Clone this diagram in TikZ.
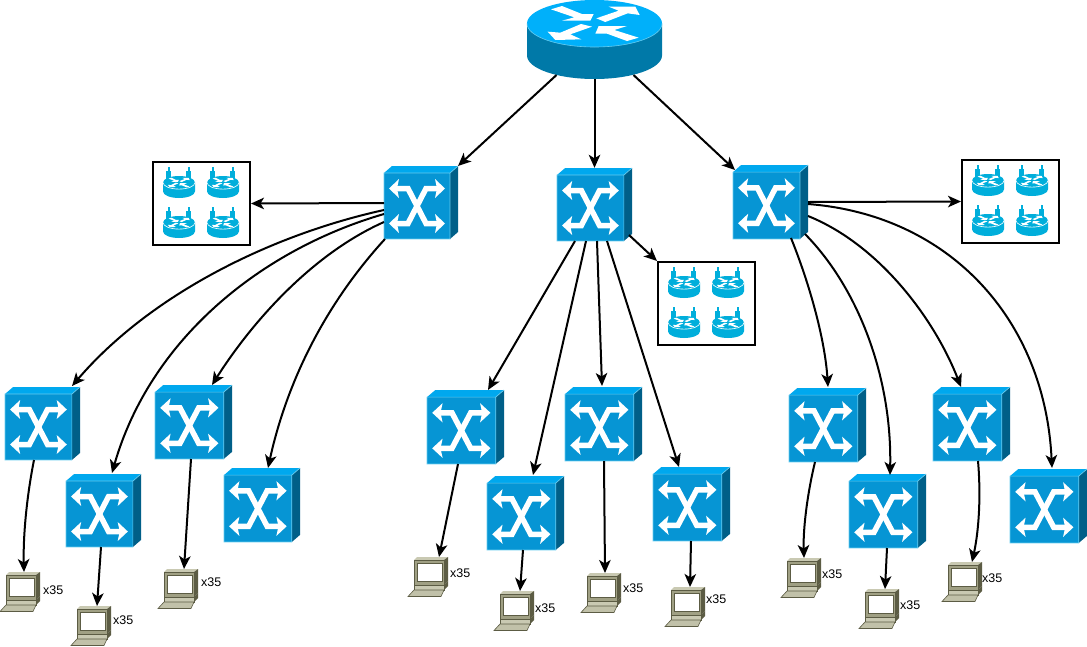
\documentclass[tikz,border=0pt]{standalone}
\usepackage{fontspec}
\setmainfont{Liberation Sans}
\usetikzlibrary{arrows.meta}
\definecolor{swfront}{HTML}{0695D4}
\definecolor{swtop}{HTML}{00A8EE}
\definecolor{swside}{HTML}{005F88}
\definecolor{swedge}{HTML}{66CCF0}
\definecolor{rttop}{HTML}{00B0FA}
\definecolor{rtside}{HTML}{0079A8}
\definecolor{mini}{HTML}{00AEDB}
\definecolor{pcbody}{HTML}{A0A084}
\definecolor{pcdark}{HTML}{5C5C44}
\definecolor{pclight}{HTML}{C9C9B2}
\tikzset{
  link/.style={draw=black,line width=2pt,-{Stealth[length=13pt,width=11.5pt,inset=3.5pt]}},
  countlabel/.style={font=\fontsize{12.5}{13}\selectfont,inner sep=0pt,anchor=west},
  framebox/.style={draw=black,line width=2pt,fill=white,inner sep=0pt,minimum width=97pt,minimum height=83pt}
}
% x-arrow artwork of the switch, local frame 74 x 73
\newcommand{\switchart}{%
  \fill[swtop] (0,7)--(8,0)--(74,0)--(66,7)--cycle;
  \fill[swside] (66,7)--(74,0)--(74,66)--(66,73)--cycle;
  \fill[swfront] (0,7) rectangle (66,73);
  \draw[swedge,line width=.7pt] (0,73)--(0,7)--(66,7)--(66,73)--cycle (66,7)--(74,0);
  \draw[white,line width=5.5pt,miter limit=10] (11,22.5)--(24,22.5)--(42,57.5)--(55,57.5);
  \draw[white,line width=5.5pt,miter limit=10] (55,22.5)--(42,22.5)--(24,57.5)--(11,57.5);
  \fill[white] (5,22.5)--(15,13)--(13,22.5)--(15,32)--cycle;
  \fill[white] (61,22.5)--(51,13)--(53,22.5)--(51,32)--cycle;
  \fill[white] (5,57.5)--(15,48)--(13,57.5)--(15,67)--cycle;
  \fill[white] (61,57.5)--(51,48)--(53,57.5)--(51,67)--cycle;
}
% #1 name, #2 #3 top-left, #4 #5 size
\newcommand{\swnode}[5]{%
  \begin{scope}[shift={(#2,#3)},xscale=#4/74,yscale=#5/73]\switchart\end{scope}
  \node[inner sep=0pt,minimum width=#4pt,minimum height=#5pt] (#1) at ({#2+#4/2},{#3+#5/2}) {};
}
% router artwork, local frame 135 x 79
\newcommand{\routerart}[3]{%
  \fill[#2] (0,23.5)--(0,55.5) arc[start angle=180,end angle=360,x radius=67.5,y radius=-23.5]--(135,23.5)--cycle;
  \fill[#1] (67.5,23.5) ellipse[x radius=67.5,y radius=23.5];
  \draw[#3,line width=.6pt] (0,23.5) arc[start angle=180,end angle=360,x radius=67.5,y radius=-23.5];
  \begin{scope}[scale=1/3,shift={(-50,0)}]
    \fill[white] (122,28)--(155,18)--(215,42)--(250,42)--(240,62)--(155,62)--(192,52)--cycle;
    \fill[white] (258,55)--(325,32)--(295,20)--(375,20)--(388,45)--(352,40)--(285,66)--cycle;
    \fill[white] (245,80)--(180,103)--(213,118)--(135,120)--(112,95)--(150,98)--(212,72)--cycle;
    \fill[white] (385,113)--(350,123)--(290,101)--(255,101)--(265,78)--(350,78)--(312,90)--cycle;
  \end{scope}
}
\newcommand{\miniart}[2]{%
  \begin{scope}[shift={(#1,#2)}]
    \fill[mini] (4.5,0) rectangle (7,4);
    \fill[mini] (3,4) rectangle (8,12);
    \fill[mini] (24.5,0) rectangle (27,4);
    \fill[mini] (23,4) rectangle (28,12);
    \begin{scope}[shift={(0,9)},xscale=32/135,yscale=22/79]\routerart{mini}{mini}{white}\end{scope}
  \end{scope}
}
% #1 name, #2 #3 top-left
\newcommand{\boxnode}[3]{%
  \node[framebox] (#1) at ({#2+48.5},{#3+41.5}) {};
  \miniart{#2+10}{#3+5}\miniart{#2+54}{#3+5}
  \miniart{#2+10}{#3+45}\miniart{#2+54}{#3+45}
}
% #1 name, #2 #3 top-left, #4 #5 label position
\newcommand{\pcnode}[5]{%
  \begin{scope}[shift={(#2,#3)}]
    \fill[pclight] (6,3)--(9,0)--(40,0)--(36,3)--cycle;
    \fill[pcdark] (36,3)--(40,0)--(40,24)--(36,28)--cycle;
    \fill[pcbody] (6,3) rectangle (36,28);
    \draw[pcdark,line width=.8pt] (6,3) rectangle (36,28);
    \fill[white] (9,6.5) rectangle (34,24.5);
    \draw[pcdark,line width=1pt] (9,6.5) rectangle (34,24.5);
    \fill[pclight] (6,28) rectangle (36,33);
    \draw[pcdark,line width=.6pt] (6,28) rectangle (36,33);
    \fill[pcdark] (36,28)--(40,24)--(40,29)--(36,33)--cycle;
    \fill[pclight!80!pcbody] (6,33)--(36,33)--(33,39.5)--(0,39.5)--cycle;
    \draw[pcdark,line width=.6pt] (6,33)--(36,33)--(33,39.5)--(0,39.5)--cycle;
  \end{scope}
  \node[inner sep=0pt,minimum width=41pt,minimum height=40pt] (#1) at ({#2+20.5},{#3+20}) {};
  \node[countlabel] (#1lab) at (#4,#5+1) {x35};
}
\begin{document}
\begin{tikzpicture}[x=1pt,y=-1pt]
\useasboundingbox (0,0) rectangle (1087,646);
\fill[white] (0,0) rectangle (1087,646);
% router
\begin{scope}[shift={(527,0)}]\routerart{rttop}{rtside}{swedge}\end{scope}
\node[inner sep=0pt,minimum width=135pt,minimum height=79pt] (R) at (594.5,39.5) {};
% switches
\swnode{SA}{384}{166}{74}{73}
\swnode{SB}{557}{168}{75}{73}
\swnode{SC}{733}{165}{75}{74}
\swnode{LA}{5}{387}{75}{73}
\swnode{LB}{66}{474}{75}{73}
\swnode{LC}{155}{385}{77}{74}
\swnode{LD}{224}{468}{76}{74}
\swnode{MA}{427}{390}{77}{74}
\swnode{MB}{487}{476}{77}{74}
\swnode{MC}{565}{387}{77}{74}
\swnode{MD}{653}{467}{77}{74}
\swnode{RA}{789}{388}{77}{74}
\swnode{RB}{849}{474}{77}{74}
\swnode{RC}{933}{387}{77}{74}
\swnode{RD}{1010}{469}{77}{74}
% boxes
\boxnode{BA}{153}{162}
\boxnode{BB}{658}{262}
\boxnode{BC}{962}{160}
% computers
\pcnode{PA}{0}{572}{43}{589}
\pcnode{PB}{71}{606}{113}{619}
\pcnode{PC}{158}{569}{201}{581}
\pcnode{PD}{408}{557}{450}{572}
\pcnode{PE}{494}{591}{535}{607}
\pcnode{PF}{581}{573}{623}{587}
\pcnode{PG}{665}{587}{706}{598}
\pcnode{PH}{781}{558}{822}{573}
\pcnode{PI}{859}{589}{900}{604}
\pcnode{PJ}{942}{562}{982}{577}
% connectors from the router
\draw[link] ([shift={(-38,35.5)}]R.center) -- ([shift={(37,-36.5)}]SA.center);
\draw[link] ([shift={(0,39.5)}]R.center) -- (SB.north);
\draw[link] ([shift={(39,35.5)}]R.center) -- ([shift={(-35.5,-32)}]SC.center);
% connectors to boxes
\draw[link] ([shift={(-37,0.5)}]SA.center) -- (BA.east);
\draw[link] ([shift={(34.5,30.5)}]SB.center) -- (BB.north west);
\draw[link] (SC.east) -- (BC.west);
% left group
\draw[link] ([shift={(-37,7.5)}]SA.center) .. controls (270,235) and (150,295) .. ([shift={(29.5,-37.5)}]LA.center);
\draw[link] ([shift={(-37,11.5)}]SA.center) .. controls (260,250) and (150,340) .. ([shift={(8.5,-37.5)}]LB.center);
\draw[link] ([shift={(-37,19.5)}]SA.center) .. controls (310,255) and (250,325) .. ([shift={(18.5,-37)}]LC.center);
\draw[link] ([shift={(-36,36.5)}]SA.center) .. controls (320,310) and (285,390) .. ([shift={(6,-37)}]LD.center);
% middle group
\draw[link] ([shift={(-19.5,36.5)}]SB.center) -- ([shift={(22.5,-37)}]MA.center);
\draw[link] ([shift={(-8.5,36.5)}]SB.center) -- ([shift={(7.5,-38)}]MB.center);
\draw[link] ([shift={(2.5,36.5)}]SB.center) -- ([shift={(-1.5,-38)}]MC.center);
\draw[link] ([shift={(12.5,36.5)}]SB.center) -- ([shift={(-12.5,-37)}]MD.center);
% right group
\draw[link] ([shift={(20.5,36)}]SC.center) .. controls (810,285) and (825,340) .. ([shift={(0.5,-38)}]RA.center);
\draw[link] ([shift={(34.5,32)}]SC.center) .. controls (860,290) and (892,380) .. ([shift={(2.5,-36)}]RB.center);
\draw[link] ([shift={(37.5,14)}]SC.center) .. controls (880,245) and (935,320) .. ([shift={(-10.5,-37)}]RC.center);
\draw[link] ([shift={(37.5,2)}]SC.center) .. controls (950,215) and (1045,320) .. ([shift={(3.5,-38)}]RD.center);
% switches to computers
\draw[link] ([shift={(-8.5,36.5)}]LA.center) .. controls (27,495) and (23,535) .. ([shift={(3.5,-20)}]PA.center);
\draw[link] ([shift={(-2.5,36.5)}]LB.center) -- ([shift={(5.5,-20)}]PB.center);
\draw[link] ([shift={(-2.5,37)}]LC.center) -- ([shift={(5.5,-20)}]PC.center);
\draw[link] ([shift={(-7.5,37)}]MA.center) -- ([shift={(10.5,-20)}]PD.center);
\draw[link] ([shift={(-2.5,37)}]MB.center) -- ([shift={(5.5,-20)}]PE.center);
\draw[link] ([shift={(0.5,37)}]MC.center) -- ([shift={(3.5,-20)}]PF.center);
\draw[link] ([shift={(-0.5,37)}]MD.center) -- ([shift={(4.5,-20)}]PG.center);
\draw[link] ([shift={(-12.5,37)}]RA.center) .. controls (807,495) and (803,530) .. ([shift={(2.5,-20)}]PH.center);
\draw[link] ([shift={(-0.5,37)}]RB.center) -- ([shift={(5.5,-20)}]PI.center);
\draw[link] ([shift={(6.5,37)}]RC.center) .. controls (981,495) and (979,530) .. ([shift={(9.5,-20)}]PJ.center);
\end{tikzpicture}
\end{document}
